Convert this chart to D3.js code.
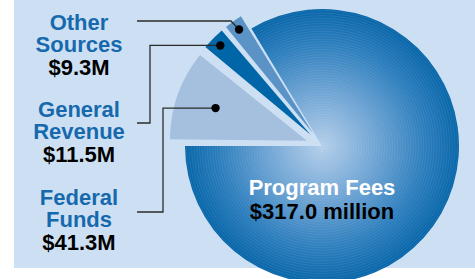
<!DOCTYPE html>
<html>
<head>
<meta charset="utf-8">
<script src="https://cdn.jsdelivr.net/npm/d3@7"></script>
<style>
  body { margin: 0; background: #fff; }
  svg { display: block; }
  text { font-family: "Liberation Sans", Arial, Helvetica, sans-serif; font-weight: bold; }
</style>
</head>
<body>
<svg id="chart" width="475" height="279"></svg>
<script>
// data
const categories = ["Federal Funds", "General Revenue", "Other Sources", "Program Fees"];
const values = [41.3, 11.5, 9.3, 317.0];
const nameLines = [["Federal", "Funds"], ["General", "Revenue"], ["Other", "Sources"], ["Program Fees"]];
const valueLabels = ["$41.3M", "$11.5M", "$9.3M", "$317.0 million"];

function main(){
    var svg = d3.select("#chart"),
        cx = 322, cy = 146, radius = 137;

    // light blue panel
    svg.append("rect")
        .attr("x", 14).attr("y", 0)
        .attr("width", 475 - 14).attr("height", 268)
        .attr("fill", "#cde0f3");

    var defs = svg.append("defs");
    // gradient lives in the translated group's space, so centre is 0,0
    var grad = defs.append("radialGradient")
        .attr("id", "feesGrad")
        .attr("gradientUnits", "userSpaceOnUse")
        .attr("cx", 0).attr("cy", 0).attr("r", radius);
    grad.append("stop").attr("offset", "0%").attr("stop-color", "#b4cfea");
    grad.append("stop").attr("offset", "40%").attr("stop-color", "#6ea4d4");
    grad.append("stop").attr("offset", "75%").attr("stop-color", "#2c7ebd");
    grad.append("stop").attr("offset", "100%").attr("stop-color", "#0866a9");

    var pie = d3.pie().sort(null)
        .startAngle(-Math.PI / 2)
        .endAngle(1.5 * Math.PI);
    var arcs = pie(values);

    var arc = d3.arc().innerRadius(0).outerRadius(radius);
    var smallArc = d3.arc().innerRadius(0).outerRadius(radius)
        .padAngle(0.02).padRadius(radius);

    var colors = ["#a5bfdf", "#0066a8", "#5b93c7", "url(#feesGrad)"];
    var explode = [16, 16, 16, 0];
    var dotR = [97, 127, 127];

    var g = svg.append("g").attr("transform", "translate(" + cx + "," + cy + ")");

    function offset(d, i){
        var a = (d.startAngle + d.endAngle) / 2;
        return [Math.sin(a) * explode[i], -Math.cos(a) * explode[i]];
    }

    // main slice
    g.append("path")
        .attr("d", arc(arcs[3]))
        .attr("fill", colors[3]);

    // fine concentric rings on the main slice
    defs.append("clipPath").attr("id", "feesClip")
        .append("path").attr("d", arc(arcs[3]));
    g.append("g").attr("clip-path", "url(#feesClip)")
        .selectAll("circle")
        .data(d3.range(3, radius, 2.6))
        .enter().append("circle")
        .attr("r", function(r){ return r; })
        .attr("fill", "none")
        .attr("stroke", "#ffffff")
        .attr("stroke-opacity", 0.1)
        .attr("stroke-width", 0.8);

    // exploded small slices
    var dots = [];
    arcs.slice(0, 3).forEach(function(d, i){
        var o = offset(d, i);
        g.append("path")
            .attr("transform", "translate(" + o[0] + "," + o[1] + ")")
            .attr("d", smallArc(d))
            .attr("fill", colors[i]);
        var c = d3.arc().innerRadius(dotR[i]).outerRadius(dotR[i]).centroid(d);
        dots.push([cx + o[0] + c[0], cy + o[1] + c[1]]);
    });

    // leader lines
    var line = d3.line();
    var routes = [
        [dots[0], [163, dots[0][1]], [163, 212], [137, 212]],
        [dots[1], [150, dots[1][1]], [150, 123], [137, 123]],
        [dots[2], [231, 21], [137, 21]]
    ];
    routes.forEach(function(r){
        svg.append("path").attr("d", line(r))
            .attr("fill", "none")
            .attr("stroke", "#2b2b2b")
            .attr("stroke-width", 1.3);
    });
    dots.forEach(function(p){
        svg.append("circle").attr("cx", p[0]).attr("cy", p[1]).attr("r", 4.2).attr("fill", "#000");
    });

    // labels
    var labelBase = [205, 117, 30];
    for (var i = 0; i < 3; i++){
        var t = svg.append("text").attr("text-anchor", "middle").attr("font-size", "22px");
        nameLines[i].forEach(function(s, k){
            t.append("tspan").attr("x", 79).attr("y", labelBase[i] + k * 22)
                .attr("fill", "#1769ad").text(s);
        });
        t.append("tspan").attr("x", 79).attr("y", labelBase[i] + 2 * 22 + 0.5)
            .attr("fill", "#000").text(valueLabels[i]);
    }

    svg.append("text").attr("x", cx).attr("y", 195)
        .attr("text-anchor", "middle").attr("font-size", "22px")
        .attr("fill", "#fff").text(nameLines[3][0]);
    svg.append("text").attr("x", cx).attr("y", 219)
        .attr("text-anchor", "middle").attr("font-size", "22px")
        .attr("fill", "#000").text(valueLabels[3]);
}
main();
</script>
</body>
</html>
